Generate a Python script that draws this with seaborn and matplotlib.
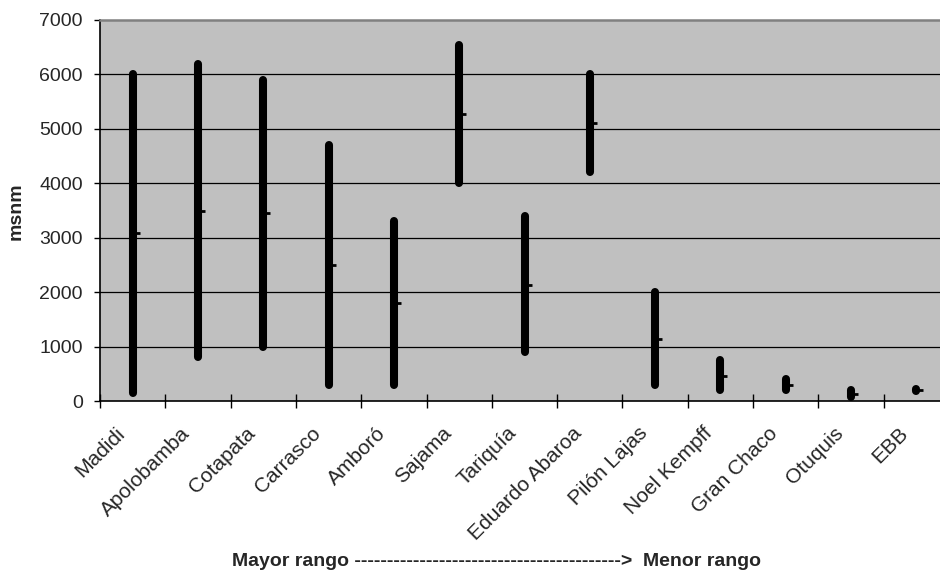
import numpy as np
import pandas as pd
import matplotlib
matplotlib.use("Agg")
import matplotlib.pyplot as plt
import matplotlib.transforms as mtransforms
import seaborn as sns

# rangos altitudinales por área protegida (msnm)
parques = ["Madidi", "Apolobamba", "Cotapata", "Carrasco", "Amboró", "Sajama",
           "Tariquía", "Eduardo Abaroa", "Pilón Lajas", "Noel Kempff",
           "Gran Chaco", "Otuquis", "EBB"]
alt_min = [150, 800, 1000, 300, 300, 4010, 900, 4200, 300, 200, 200, 80, 190]
alt_max = [6000, 6200, 5900, 4700, 3300, 6540, 3400, 6000, 2000, 750, 400, 200, 220]
alt_media = [3080, 3500, 3450, 2500, 1800, 5270, 2140, 5100, 1140, 465, 300, 120, 200]
y_ticks = [0, 1000, 2000, 3000, 4000, 5000, 6000, 7000]

rng = pd.DataFrame({
    "parque": [p for p in parques for _ in range(2)],
    "msnm": [v for pair in zip(alt_min, alt_max) for v in pair],
})

sns.set_style("ticks")
plt.rcParams["font.family"] = ["Liberation Sans", "DejaVu Sans"]

fig = plt.figure(figsize=(9.4, 5.81), dpi=100)
ax = fig.add_axes([100 / 940, 180 / 581, 849 / 940, 381 / 581])
ax.set_facecolor("#c0c0c0")

sns.lineplot(data=rng, x="parque", y="msnm", units="parque", estimator=None,
             sort=False, color="black", lw=5.8, solid_capstyle="round", ax=ax,
             zorder=3)
ax.plot(parques, alt_media, ls="none", marker=1, color="black",
        markersize=5, markeredgewidth=2, zorder=4)

ax.set_ylim(0, 7000)
ax.set_yticks(y_ticks)
ax.set_xlim(-0.5, len(parques) - 0.5)
for y in y_ticks[1:-1]:
    ax.axhline(y, color="black", lw=0.9, zorder=1)

# ticks entre categorías, etiquetas centradas
ax.set_xticks(np.arange(-0.5, len(parques)), labels=[])
ax.set_xticks(range(len(parques)), labels=parques, minor=True)
ax.tick_params(axis="x", which="major", direction="inout", length=10, width=1,
               color="black")
ax.tick_params(axis="x", which="minor", length=0, pad=21, labelsize=15)
shift = mtransforms.ScaledTranslation(-11 / 100, 0, fig.dpi_scale_trans)
for lab in ax.get_xticklabels(minor=True):
    lab.set_rotation(45)
    lab.set_ha("right")
    lab.set_va("center")
    lab.set_rotation_mode("anchor")
    lab.set_transform(lab.get_transform() + shift)
ax.tick_params(axis="y", direction="out", length=4.5, width=1, labelsize=14,
               color="black", pad=8)

for side in ["left", "bottom"]:
    ax.spines[side].set_color("black")
    ax.spines[side].set_linewidth(1.2)
ax.spines["top"].set_color("#808080")
ax.spines["top"].set_linewidth(1.8)
ax.spines["right"].set_visible(False)

ax.set_xlabel("")
ax.set_ylabel("")
fig.text(16 / 940, 0.637, "msnm", rotation=90, ha="center", va="center",
         fontsize=14, fontweight="bold")
fig.text(496 / 940, 0.033,
         "Mayor rango " + "-" * 41 + ">  Menor rango",
         ha="center", va="center", fontsize=14, fontweight="bold")

fig.savefig("out.png", dpi=100)
